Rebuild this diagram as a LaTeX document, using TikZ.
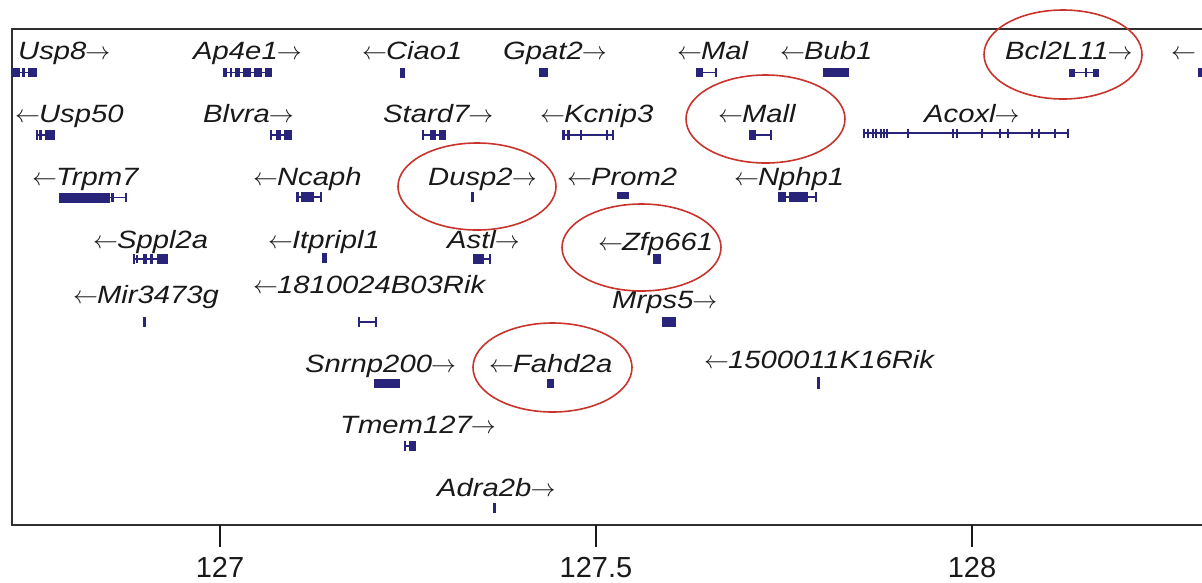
\documentclass[tikz,border=0pt]{standalone}
\usepackage{fontspec}
\setmainfont{Liberation Sans}

\definecolor{trk}{RGB}{40,36,122}
\definecolor{ring}{RGB}{200,52,44}
\definecolor{ink}{RGB}{25,25,25}

% gene model pieces: exon block, intron line, end tick
\newcommand\gexon[3]{\fill[trk] (#1,{#3-4.75}) rectangle (#2,{#3+4.75});}
\newcommand\gexonh[4]{\fill[trk] (#1,{#3-#4/2}) rectangle (#2,{#3+#4/2});}
\newcommand\gline[3]{\draw[trk,line width=1.4pt] (#1,#3) -- (#2,#3);}
\newcommand\gtick[2]{\draw[trk,line width=1.7pt] (#1,{#2-4.75}) -- (#1,{#2+4.75});}
% strand labels
\newcommand\fwd[1]{\scalebox{1.17}[1]{#1}\kern-1pt$\rightarrow$}
\newcommand\rev[1]{$\leftarrow$\kern-1pt\scalebox{1.17}[1]{#1}}

\tikzset{
  glab/.style={anchor=base west, inner sep=0pt, text=ink,
    font=\fontsize{25}{30}\selectfont\itshape},
  numlab/.style={anchor=base, inner sep=0pt, text=ink,
    font=\fontsize{29}{34}\selectfont},
  hilite/.style={draw=ring, line width=1.6pt},
  frameline/.style={draw=ink!90, line width=2.2pt},
}

\begin{document}
\begin{tikzpicture}[x=1pt,y=-1pt]
\useasboundingbox (0,0) rectangle (1202,582);
\clip (0,0) rectangle (1202,582);

% plot frame (open to the right)
\draw[frameline] (1215,29) -- (12,29) -- (12,525) -- (1215,525);

% axis ticks and labels
\foreach \xx/\lab/\nm in {220/127/ta, 596/127.5/tb, 972/128/tc}{
  \draw[ink, line width=1.4pt] (\xx,525) -- (\xx,547);
  \node[numlab] (\nm) at (\xx,577) {\lab};
}

% ---------- row 1 ----------
\node[glab] (usp8)   at (18,59)   {\fwd{Usp8}};
\node[glab] (ap4e1)  at (193,59)  {\fwd{Ap4e1}};
\node[glab] (ciao1)  at (362,59)  {\rev{Ciao1}};
\node[glab] (gpat2)  at (503,59)  {\fwd{Gpat2}};
\node[glab] (mal)    at (677,59)  {\rev{Mal}};
\node[glab] (bub1)   at (780,59)  {\rev{Bub1}};
\node[glab] (bcl2l11) at (1005,59) {\fwd{Bcl2L11}};
\node[glab] (edge)   at (1171,59) {$\leftarrow$};

\gline{12}{37}{72.5} \gexon{12}{20}{72.5} \gexon{22}{25}{72.5} \gexon{28}{37}{72.5}
\gline{223}{272}{72.5}
\gexon{223}{227}{72.5} \gexon{230}{232}{72.5} \gexon{235}{240}{72.5}
\gexon{243}{251}{72.5} \gexon{254}{262}{72.5} \gexon{265}{272}{72.5}
\gexonh{400}{405}{73}{10}
\gexon{539}{548}{72.5}
\gexon{696}{703}{72.5} \gline{703}{716}{72.5} \gtick{716}{72.5}
\gexonh{823}{849}{72.5}{9}
\gline{1069}{1099}{72.5} \gexonh{1069}{1075}{72.5}{8} \gtick{1086}{72.5} \gexonh{1093}{1099}{72.5}{8}
\gexon{1198}{1204}{72.5}

% ---------- row 2 ----------
\node[glab] (usp50)  at (15,122)  {\rev{Usp50}};
\node[glab] (blvra)  at (203,122) {\fwd{Blvra}};
\node[glab] (stard7) at (383,122) {\fwd{Stard7}};
\node[glab] (kcnip3) at (540,122) {\rev{Kcnip3}};
\node[glab] (mall)   at (718,122) {\rev{Mall}};
\node[glab] (acoxl)  at (924,122) {\fwd{Acoxl}};

\gline{36}{55}{135} \gtick{37}{135} \gexon{39}{42}{135} \gexon{45}{55}{135}
\gline{270}{292}{135} \gtick{271}{135} \gexon{276}{281}{135} \gexon{284}{292}{135}
\gline{422}{446}{135} \gtick{423}{135} \gexon{430}{436}{135} \gexon{439}{446}{135}
\gline{562}{613}{135} \gexon{562}{565}{135} \gexon{567}{570}{135}
\gtick{581}{135} \gtick{607}{135} \gtick{613}{135}
\gexon{749}{756}{135} \gline{756}{771}{135} \gtick{771}{135}
\draw[trk,line width=1.4pt] (863,133) -- (1069,133);
\foreach \t in {864,868,873,876,881,884,887,908,953,957,982,1000,1008,1032,1039,1055,1068}{
  \draw[trk,line width=1.5pt] (\t,128.5) -- (\t,137.5);
}

% ---------- row 3 ----------
\node[glab] (trpm7)  at (32,185)  {\rev{Trpm7}};
\node[glab] (ncaph)  at (253,185) {\rev{Ncaph}};
\node[glab] (dusp2)  at (428,185) {\fwd{Dusp2}};
\node[glab] (prom2)  at (567,185) {\rev{Prom2}};
\node[glab] (nphp1)  at (734,185) {\rev{Nphp1}};

\gexonh{59}{110}{197.5}{10} \gexon{111}{114}{197.5} \gline{110}{126}{197.5} \gtick{126}{197.5}
\gline{296}{321}{197} \gexon{296}{299}{197} \gexon{301}{314}{197} \gtick{321}{197}
\gexonh{471}{474}{197}{10}
\gexonh{617}{629}{195.5}{7}
\gline{778}{816}{197} \gexon{778}{786}{197} \gexonh{789}{808}{197}{10} \gtick{816}{197}

% ---------- row 4 ----------
\node[glab] (sppl2a)   at (93,248)  {\rev{Sppl2a}};
\node[glab] (itpripl1) at (268,248) {\rev{Itpripl1}};
\node[glab] (astl)     at (447,248) {\fwd{Astl}};
\node[glab] (zfp661)   at (598,250) {\rev{Zfp661}};

\gline{133}{168}{259} \gtick{134}{259} \gexonh{136}{138}{259}{8}
\gexon{143}{147}{259} \gexon{150}{153}{259} \gexon{157}{168}{259}
\gexonh{322}{327}{258}{10}
\gexon{473}{484}{259} \gline{484}{490}{259} \gtick{490}{259}
\gexon{653}{661}{259}

% ---------- row 5 ----------
\node[glab] (mir3473g) at (73,303)  {\rev{Mir3473g}};
\node[glab] (rik18)    at (253,293) {\rev{1810024B03Rik}};
\node[glab] (mrps5)    at (612,308) {\fwd{Mrps5}};

\gexonh{143}{145.5}{322}{10}
\gtick{359}{322} \gline{359}{376}{322} \gtick{376}{322}
\gexonh{662}{676}{322}{10}

% ---------- row 6 ----------
\node[glab] (snrnp200) at (305,372) {\fwd{Snrnp200}};
\node[glab] (fahd2a)   at (489,372) {\rev{Fahd2a}};
\node[glab] (rik15)    at (704,368) {\rev{1500011K16Rik}};

\gexon{374}{400}{383.5}
\gexon{547}{554}{383.5}
\gexonh{817}{819.5}{383}{12}

% ---------- row 7 ----------
\node[glab] (tmem127) at (340,433) {\fwd{Tmem127}};
\gtick{405}{446} \gline{405}{416}{446} \gexon{409}{416}{446}

% ---------- row 8 ----------
\node[glab] (adra2b) at (437,496) {\fwd{Adra2b}};
\gexonh{493}{495.5}{508}{10}

% highlighted genes
\draw[hilite] (1063,54.5) ellipse [x radius=79, y radius=44.5];
\draw[hilite] (765.5,119) ellipse [x radius=79.5, y radius=44];
\draw[hilite] (477,186.5) ellipse [x radius=79, y radius=43.5];
\draw[hilite] (641.5,247.5) ellipse [x radius=79.5, y radius=43.5];
\draw[hilite] (552.5,367.5) ellipse [x radius=79.5, y radius=44.5];
\end{tikzpicture}
\end{document}
